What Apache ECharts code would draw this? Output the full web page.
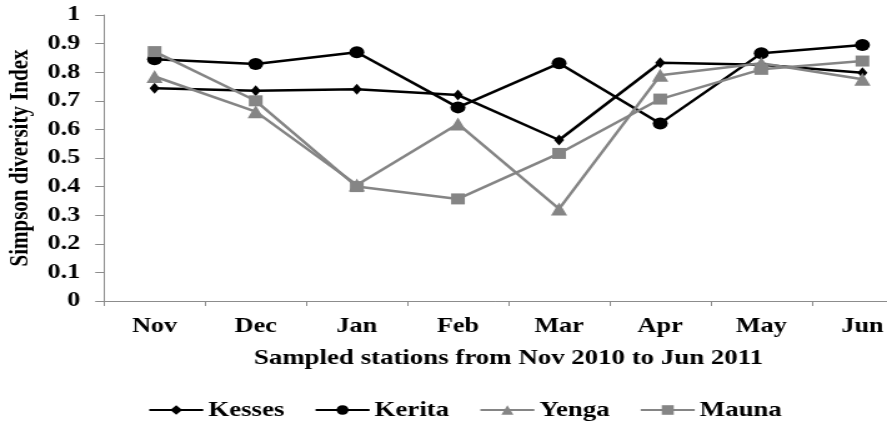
<!DOCTYPE html>
<html>
<head>
<meta charset="utf-8">
<script src="https://cdn.jsdelivr.net/npm/echarts@6/dist/echarts.min.js"></script>
<style>
  html, body { margin: 0; padding: 0; background: #fff; overflow: hidden; }
  #chart { width: 710px; height: 424px; transform-origin: 0 0; }
</style>
</head>
<body>
<div id="chart"></div>
<script>
// Monthly Simpson diversity index per sampling station
const months = ['Nov', 'Dec', 'Jan', 'Feb', 'Mar', 'Apr', 'May', 'Jun'];
const kesses = [0.744, 0.735, 0.740, 0.720, 0.563, 0.833, 0.826, 0.798];
const kerita = [0.845, 0.829, 0.870, 0.677, 0.831, 0.621, 0.866, 0.895];
const yenga  = [0.785, 0.662, 0.406, 0.619, 0.322, 0.789, 0.831, 0.775];
const mauna  = [0.872, 0.700, 0.400, 0.357, 0.516, 0.706, 0.810, 0.839];
const yMin = 0, yMax = 1, yStep = 0.1;

// The chart is laid out on a narrower canvas and widened to the page width
const PAGE_W = 887;
const el = document.getElementById('chart');
const SX = PAGE_W / el.offsetWidth;
el.style.transform = 'scaleX(' + SX + ')';
const px = x => x / SX;

const FONT = '"Liberation Serif", "Times New Roman", serif';
const BLACK = '#000000';
const GREY = '#858585';
const AXIS = '#8c8c8c';

const chart = echarts.init(el, null, { renderer: 'canvas' });

function line(name, data, color, symbol, size) {
  return {
    name: name,
    type: 'line',
    data: data,
    symbol: symbol,
    symbolSize: size,
    showAllSymbol: true,
    lineStyle: { color: color, width: 2.5 },
    itemStyle: { color: color },
    emphasis: { disabled: true },
    animation: false
  };
}

chart.setOption({
  backgroundColor: '#ffffff',
  animation: false,
  grid: {
    left: px(104),
    width: px(913 - 104),
    top: 15,
    height: 286,
    containLabel: false,
    outerBoundsMode: 'none'
  },
  xAxis: {
    type: 'category',
    data: months,
    boundaryGap: true,
    name: 'Sampled stations from Nov 2010 to Jun 2011',
    nameLocation: 'middle',
    nameGap: 46,
    nameTextStyle: { fontFamily: FONT, fontWeight: 'bold', fontSize: 21.5, color: BLACK },
    axisLine: { lineStyle: { color: AXIS, width: 1 } },
    axisTick: { show: true, length: 5, lineStyle: { color: AXIS } },
    axisLabel: { fontFamily: FONT, fontWeight: 'bold', fontSize: 21, color: BLACK, margin: 15 },
    splitLine: { show: false }
  },
  yAxis: {
    type: 'value',
    min: yMin,
    max: yMax,
    interval: yStep,
    name: 'Simpson diversity Index',
    nameLocation: 'middle',
    nameGap: 52,
    nameTextStyle: { fontFamily: FONT, fontWeight: 'bold', fontSize: 21, color: BLACK },
    axisLine: { show: true, lineStyle: { color: AXIS, width: 1 } },
    axisTick: { show: true, length: 7, lineStyle: { color: AXIS } },
    axisLabel: { fontFamily: FONT, fontWeight: 'bold', fontSize: 21, color: BLACK, margin: 19 },
    splitLine: { show: false }
  },
  legend: {
    left: px(148),
    top: 399,
    padding: 0,
    itemWidth: px(54),
    itemHeight: 12,
    itemGap: 24,
    textStyle: { fontFamily: FONT, fontWeight: 'bold', fontSize: 21.5, color: BLACK, padding: [0, 0, 0, -1] },
    data: ['Kesses', 'Kerita', 'Yenga', 'Mauna']
  },
  series: [
    line('Kesses', kesses, BLACK, 'diamond', [8, 11]),
    line('Kerita', kerita, BLACK, 'circle', 12),
    line('Yenga', yenga, GREY, 'triangle', 13),
    line('Mauna', mauna, GREY, 'rect', 11)
  ]
});
</script>
</body>
</html>
